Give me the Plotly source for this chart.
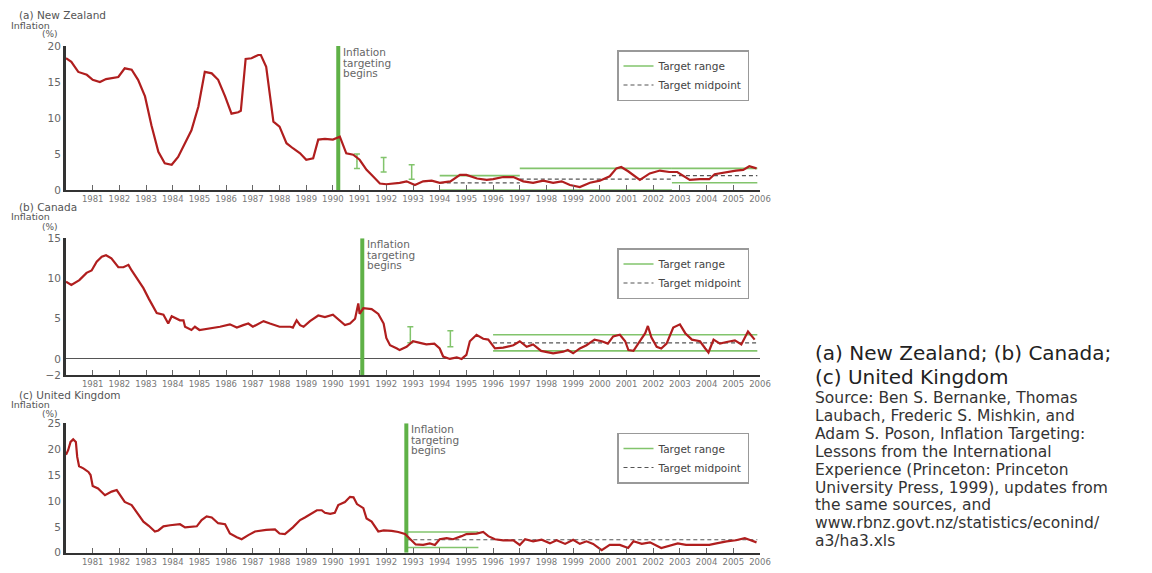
import plotly.graph_objects as go

W, H = 1152, 573

tick_years = list(range(1981, 2007))

# ---------------- data ----------------
nz_years = [1980.0, 1980.2, 1980.46, 1980.78, 1981.0, 1981.27, 1981.5, 1981.96, 1982.2, 1982.46,
            1982.7, 1982.96, 1983.2, 1983.46, 1983.7, 1983.96, 1984.2, 1984.46, 1984.7, 1984.96,
            1985.2, 1985.46, 1985.7, 1985.96, 1986.2, 1986.45, 1986.55, 1986.73, 1986.95, 1987.2,
            1987.3, 1987.5, 1987.77, 1988.0, 1988.26, 1988.5, 1988.77, 1989.0, 1989.26, 1989.45,
            1989.7, 1990.0, 1990.26, 1990.5, 1990.76, 1991.0, 1991.26, 1991.5, 1991.76, 1992.0,
            1992.26, 1992.5, 1992.76, 1993.07, 1993.38, 1993.7, 1994.0, 1994.4, 1994.76, 1995.0,
            1995.4, 1995.76, 1996.0, 1996.38, 1996.76, 1997.13, 1997.5, 1997.88, 1998.25, 1998.57,
            1998.88, 1999.25, 1999.63, 2000.0, 2000.37, 2000.62, 2000.8, 2001.06, 2001.5, 2001.87,
            2002.25, 2002.6, 2002.9, 2003.37, 2003.75, 2004.1, 2004.3, 2004.75, 2005.1, 2005.37,
            2005.6, 2005.87]
nz_values = [18.3, 17.8, 16.4, 16.0, 15.3, 15.0, 15.4, 15.7, 16.9, 16.7,
             15.3, 13.0, 9.0, 5.3, 3.7, 3.5, 4.6, 6.5, 8.3, 11.6,
             16.4, 16.2, 15.3, 13.0, 10.6, 10.8, 11.0, 18.2, 18.3, 18.75,
             18.75, 17.1, 9.5, 8.8, 6.5, 5.8, 5.1, 4.2, 4.4, 7.0,
             7.1, 7.0, 7.4, 5.1, 4.9, 4.2, 2.8, 1.9, 0.9, 0.8,
             0.9, 1.0, 1.2, 0.7, 1.2, 1.3, 1.0, 1.2, 2.1, 2.1,
             1.6, 1.4, 1.5, 1.8, 1.8, 1.2, 1.0, 1.3, 1.0, 1.2,
             0.7, 0.4, 1.0, 1.3, 1.9, 3.0, 3.2, 2.6, 1.4, 2.3,
             2.7, 2.5, 2.5, 1.4, 1.5, 1.5, 2.2, 2.5, 2.7, 2.8,
             3.3, 3.0]

ca_years = [1980.0, 1980.2, 1980.5, 1980.77, 1980.96, 1981.15, 1981.34, 1981.5, 1981.7, 1981.9,
            1981.96, 1982.15, 1982.34, 1982.46, 1982.65, 1982.9, 1983.1, 1983.27, 1983.4, 1983.65,
            1983.83, 1983.96, 1984.1, 1984.27, 1984.4, 1984.46, 1984.7, 1984.83, 1985.0, 1985.4,
            1985.77, 1986.14, 1986.4, 1986.64, 1986.83, 1987.0, 1987.4, 1987.64, 1988.0, 1988.4,
            1988.5, 1988.64, 1988.77, 1988.9, 1989.14, 1989.45, 1989.7, 1990.0, 1990.26, 1990.45,
            1990.64, 1990.83, 1990.95, 1991.0, 1991.14, 1991.45, 1991.7, 1991.9, 1992.0, 1992.14,
            1992.4, 1992.5, 1992.76, 1993.0, 1993.26, 1993.5, 1993.8, 1994.0, 1994.13, 1994.38,
            1994.64, 1994.82, 1995.0, 1995.13, 1995.38, 1995.63, 1995.82, 1996.07, 1996.38, 1996.76,
            1997.0, 1997.26, 1997.5, 1997.8, 1998.25, 1998.63, 1998.8, 1999.0, 1999.25, 1999.5,
            1999.8, 2000.07, 2000.3, 2000.5, 2000.75, 2000.95, 2001.07, 2001.26, 2001.5, 2001.7,
            2001.8, 2001.93, 2002.13, 2002.3, 2002.5, 2002.75, 2003.0, 2003.2, 2003.45, 2003.75,
            2003.95, 2004.07, 2004.26, 2004.5, 2004.75, 2005.06, 2005.3, 2005.55, 2005.8]
ca_values = [9.6, 9.2, 9.8, 10.7, 11.0, 12.1, 12.7, 12.9, 12.5, 11.7,
             11.4, 11.4, 11.7, 11.0, 10.0, 8.8, 7.5, 6.5, 5.7, 5.5,
             4.4, 5.3, 5.1, 4.8, 4.8, 4.0, 3.6, 4.0, 3.6, 3.8,
             4.0, 4.3, 3.9, 4.2, 4.4, 4.0, 4.7, 4.4, 4.0, 4.0,
             3.9, 4.8, 4.2, 4.0, 4.7, 5.4, 5.2, 5.5, 4.7, 4.2,
             4.4, 5.0, 6.9, 5.6, 6.3, 6.2, 5.6, 4.4, 2.6, 1.7,
             1.3, 1.1, 1.5, 2.2, 2.0, 1.8, 1.9, 1.3, 0.3, 0.0,
             0.2, 0.0, 0.5, 2.2, 3.0, 2.5, 2.4, 1.3, 1.4, 1.7,
             2.2, 1.5, 1.8, 1.0, 0.7, 0.9, 1.1, 0.7, 1.3, 1.7,
             2.4, 2.2, 1.9, 2.8, 3.0, 2.2, 1.1, 1.0, 2.2, 3.2,
             4.1, 2.7, 1.5, 1.3, 1.9, 3.9, 4.3, 3.2, 2.4, 2.2,
             1.3, 0.8, 2.4, 1.9, 2.1, 2.3, 1.8, 3.4, 2.4]

uk_years = [1980.0, 1980.08, 1980.17, 1980.27, 1980.37, 1980.42, 1980.49, 1980.65, 1980.84, 1980.92,
            1981.0, 1981.2, 1981.46, 1981.71, 1981.9, 1982.0, 1982.2, 1982.46, 1982.65, 1982.9,
            1983.1, 1983.33, 1983.46, 1983.65, 1983.9, 1984.27, 1984.46, 1984.65, 1984.9, 1985.08,
            1985.27, 1985.46, 1985.7, 1985.96, 1986.14, 1986.4, 1986.58, 1986.83, 1987.08, 1987.5,
            1987.83, 1988.0, 1988.2, 1988.5, 1988.77, 1988.95, 1989.2, 1989.4, 1989.58, 1989.7,
            1989.9, 1990.07, 1990.2, 1990.45, 1990.64, 1990.77, 1990.9, 1991.14, 1991.26, 1991.45,
            1991.7, 1991.9, 1992.2, 1992.45, 1992.7, 1992.9, 1993.1, 1993.38, 1993.63, 1993.82,
            1994.0, 1994.26, 1994.5, 1994.82, 1995.0, 1995.38, 1995.63, 1995.82, 1996.07, 1996.38,
            1996.76, 1997.0, 1997.2, 1997.5, 1997.82, 1998.13, 1998.38, 1998.7, 1999.0, 1999.25,
            1999.5, 1999.75, 2000.07, 2000.37, 2000.75, 2001.06, 2001.26, 2001.57, 2001.88, 2002.3,
            2002.6, 2002.92, 2003.23, 2003.75, 2004.1, 2004.37, 2004.75, 2005.1, 2005.43, 2005.6,
            2005.87]
uk_values = [18.9, 19.8, 21.4, 21.9, 21.4, 18.5, 16.7, 16.3, 15.6, 15.0,
             12.9, 12.4, 11.1, 11.8, 12.1, 11.4, 9.8, 9.2, 7.9, 6.0,
             5.2, 4.1, 4.3, 5.1, 5.3, 5.5, 4.9, 5.0, 5.1, 6.3,
             7.0, 6.8, 5.7, 5.5, 3.7, 3.0, 2.6, 3.4, 4.1, 4.4,
             4.5, 3.7, 3.6, 4.9, 6.3, 6.8, 7.6, 8.2, 8.2, 7.7,
             7.5, 7.7, 9.2, 9.8, 10.8, 10.7, 9.4, 8.6, 6.6, 6.0,
             4.1, 4.3, 4.2, 4.0, 3.6, 2.6, 1.6, 1.5, 1.8, 1.5,
             2.6, 2.8, 2.6, 3.2, 3.6, 3.7, 4.0, 3.2, 2.6, 2.4,
             2.4, 1.5, 2.6, 2.2, 2.5, 1.8, 2.4, 1.7, 2.5, 1.7,
             2.2, 1.7, 0.5, 1.5, 1.5, 0.9, 2.2, 1.7, 2.0, 0.9,
             1.4, 1.8, 1.5, 1.5, 1.5, 1.8, 2.2, 2.4, 2.8, 2.5,
             2.0]

# inflation targeting start dates
nz_start = 1990.2
ca_start = 1991.1
uk_start = 1992.75

# target ranges (segments)
nz_band_start = [1994.0, 1997.0, 2002.7]
nz_band_end = [1997.0, 2002.7, 2005.9]
nz_band_low = [0, 0, 1]
nz_band_high = [2, 3, 3]
nz_mid_start = [1994.0, 1997.0, 2002.7]
nz_mid_end = [1997.0, 2002.7, 2005.9]
nz_mid = [1, 1.5, 2]
nz_bracket_x = [1990.9, 1991.9, 1992.95]
nz_bracket_low = [3, 2.5, 1.5]
nz_bracket_high = [5, 4.5, 3.5]

ca_band_start = [1996.0]
ca_band_end = [2005.9]
ca_band_low = [1]
ca_band_high = [3]
ca_mid_start = [1996.0]
ca_mid_end = [2005.9]
ca_mid = [2]
ca_bracket_x = [1992.9, 1994.4]
ca_bracket_low = [2, 1.5]
ca_bracket_high = [4, 3.5]

uk_band_start = [1992.75]
uk_band_end = [1995.45]
uk_band_low = [1]
uk_band_high = [4]
uk_mid_start = [1992.75]
uk_mid_end = [2005.9]
uk_mid = [2.5]
uk_bracket_x = []
uk_bracket_low = []
uk_bracket_high = []

source_lines = [
    "Source: Ben S. Bernanke, Thomas",
    "Laubach, Frederic S. Mishkin, and",
    "Adam S. Poson, Inflation Targeting:",
    "Lessons from the International",
    "Experience (Princeton: Princeton",
    "University Press, 1999), updates from",
    "the same sources, and",
    "www.rbnz.govt.nz/statistics/econind/",
    "a3/ha3.xls",
]
caption_lines = ["(a) New Zealand; (b) Canada;", "(c) United Kingdom"]

# ---------------- styling ----------------
RED = "#b01e1e"
GREEN_V = "#5fb147"
GREEN_R = "#82c46c"
MID = "#555555"
AXIS = "#333333"
TXT = "#555555"
FONT = "DejaVu Sans, Verdana, sans-serif"
SIDE_FONT = "DejaVu Sans, sans-serif"


def px(x):
    return x / W


def py(y):
    return 1 - y / H


def segs(starts, ends, vals):
    xs, ys = [], []
    for s, e, v in zip(starts, ends, vals):
        xs += [s, e, None]
        ys += [v, v, None]
    return xs, ys


panels = [
    dict(k="", leg="legend", years=nz_years, vals=nz_values, start=nz_start, yr=[0, 20],
         yt=[0, 5, 10, 15, 20], top=46, bot=190, zl=False, legy=75.5,
         bs=nz_band_start, be=nz_band_end, bl=nz_band_low, bh=nz_band_high,
         ms=nz_mid_start, me=nz_mid_end, mv=nz_mid,
         bx=nz_bracket_x, blo=nz_bracket_low, bhi=nz_bracket_high,
         title="(a) New Zealand", ty=[15, 25, 34.5]),
    dict(k="2", leg="legend2", years=ca_years, vals=ca_values, start=ca_start, yr=[-2, 15],
         yt=[-2, 0, 5, 10, 15], top=238.3, bot=375, zl=True, legy=273.5,
         bs=ca_band_start, be=ca_band_end, bl=ca_band_low, bh=ca_band_high,
         ms=ca_mid_start, me=ca_mid_end, mv=ca_mid,
         bx=ca_bracket_x, blo=ca_bracket_low, bhi=ca_bracket_high,
         title="(b) Canada", ty=[207, 217, 227]),
    dict(k="3", leg="legend3", years=uk_years, vals=uk_values, start=uk_start, yr=[0, 25],
         yt=[0, 5, 10, 15, 20, 25], top=423.3, bot=552.7, zl=False, legy=458,
         bs=uk_band_start, be=uk_band_end, bl=uk_band_low, bh=uk_band_high,
         ms=uk_mid_start, me=uk_mid_end, mv=uk_mid,
         bx=uk_bracket_x, blo=uk_bracket_low, bhi=uk_bracket_high,
         title="(c) United Kingdom", ty=[395, 404.5, 413.5]),
]

fig = go.Figure()
layout = dict(width=W, height=H, margin=dict(l=0, r=0, t=0, b=0, autoexpand=False),
              paper_bgcolor="white", plot_bgcolor="white",
              font=dict(family=FONT, color=TXT), showlegend=True)
annotations = []

for p in panels:
    xa, ya = "x" + p["k"], "y" + p["k"]
    # target range lines
    hx, hy = segs(p["bs"], p["be"], p["bh"])
    lx, ly = segs(p["bs"], p["be"], p["bl"])
    fig.add_trace(go.Scatter(x=hx + lx, y=hy + ly, mode="lines", name="Target range",
                             line=dict(color=GREEN_R, width=1.6), xaxis=xa, yaxis=ya,
                             legend=p["leg"], hoverinfo="skip"))
    mx, my = segs(p["ms"], p["me"], p["mv"])
    fig.add_trace(go.Scatter(x=mx, y=my, mode="lines", name="Target midpoint",
                             line=dict(color=MID, width=1.2, dash="4px,3px"), xaxis=xa, yaxis=ya,
                             legend=p["leg"], hoverinfo="skip"))
    if p["bx"]:
        mids = [(a + b) / 2 for a, b in zip(p["blo"], p["bhi"])]
        half = [(b - a) / 2 for a, b in zip(p["blo"], p["bhi"])]
        fig.add_trace(go.Scatter(x=p["bx"], y=mids, mode="markers",
                                 marker=dict(size=1, color=GREEN_R),
                                 error_y=dict(type="data", array=half, symmetric=True,
                                              color=GREEN_R, thickness=1.5, width=3),
                                 xaxis=xa, yaxis=ya, showlegend=False, hoverinfo="skip"))
    # inflation targeting start
    fig.add_trace(go.Scatter(x=[p["start"], p["start"]], y=p["yr"], mode="lines",
                             line=dict(color=GREEN_V, width=4), xaxis=xa, yaxis=ya,
                             showlegend=False, hoverinfo="skip"))
    # inflation series
    fig.add_trace(go.Scatter(x=p["years"], y=p["vals"], mode="lines",
                             line=dict(color=RED, width=2.2), xaxis=xa, yaxis=ya,
                             showlegend=False))

    layout["xaxis" + p["k"]] = dict(
        domain=[px(66), px(760)], range=[1980, 2006], anchor=ya, automargin=False,
        tickvals=tick_years, ticktext=[str(t) for t in tick_years],
        ticks="inside", ticklen=5, tickwidth=1, tickcolor="#666",
        showline=True, linecolor=AXIS, linewidth=2, showgrid=False, zeroline=False,
        tickfont=dict(size=8.5, color="#777", family=FONT))
    layout["yaxis" + p["k"]] = dict(
        domain=[py(p["bot"]), py(p["top"])], range=p["yr"], anchor=xa, automargin=False,
        tickvals=p["yt"], ticks="", showline=True, linecolor=AXIS, linewidth=3,
        showgrid=False, zeroline=p["zl"], zerolinecolor="#555", zerolinewidth=1,
        tickfont=dict(size=10.5, color="#666", family=FONT))
    layout[p["leg"]] = dict(x=px(617), y=py(p["legy"]), xanchor="left", yanchor="middle",
                            bordercolor="#999", borderwidth=1.5, bgcolor="white",
                            font=dict(size=10.5, color="#444", family=FONT),
                            itemwidth=30, tracegroupgap=0)

    # "Inflation targeting begins"
    for i, word in enumerate(["Inflation", "targeting", "begins"]):
        annotations.append(dict(x=p["start"], y=p["yr"][1], xref=xa, yref=ya,
                                text=word, showarrow=False, xanchor="left", yanchor="top",
                                xshift=3, yshift=-i * 10.5 + 2,
                                font=dict(size=10.5, color="#666", family=FONT)))
    # panel titles
    for txt, yy, xx, fs in zip([p["title"], "Inflation", "(%)"], p["ty"], [17, 9, 40],
                               [10.5, 9.5, 9]):
        annotations.append(dict(x=px(xx), y=py(yy), xref="paper", yref="paper", text=txt,
                                showarrow=False, xanchor="left", yanchor="middle",
                                font=dict(size=fs, color="#555", family=FONT)))

# right-hand caption and source
for txt, yy in zip(caption_lines, [353, 377]):
    annotations.append(dict(x=px(813), y=py(yy), xref="paper", yref="paper", text=txt,
                            showarrow=False, xanchor="left", yanchor="middle",
                            font=dict(size=20, color="#222", family=SIDE_FONT)))
for i, txt in enumerate(source_lines):
    annotations.append(dict(x=px(813), y=py(398 + i * 17.9), xref="paper", yref="paper",
                            text=txt, showarrow=False, xanchor="left", yanchor="middle",
                            font=dict(size=15.5, color="#333", family=SIDE_FONT)))

layout["annotations"] = annotations
fig.update_layout(**layout)
fig.write_html("out.html", config={"displayModeBar": False},
               post_script="document.body.style.margin='0';")
